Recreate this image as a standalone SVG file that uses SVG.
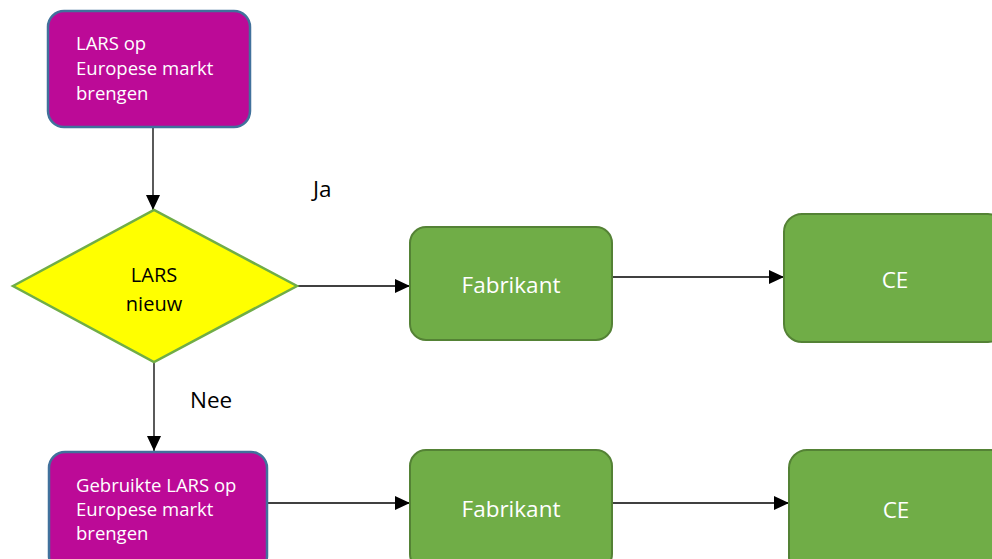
<svg xmlns="http://www.w3.org/2000/svg" width="992" height="559" viewBox="0 0 992 559">
<style>
.mag{fill:#BC0A97;stroke:#41719C;stroke-width:2.5}
.grn{fill:#70AD47;stroke:#548235;stroke-width:2}
.dia{fill:#FFFF00;stroke:#70AD47;stroke-width:2.5}
.wt{fill:#fff;font-family:"Open Sans","Noto Sans",sans-serif}
.bk{fill:#000;font-family:"Open Sans","Noto Sans",sans-serif}
.con{stroke:#000;stroke-width:1.3;fill:none;marker-end:url(#ah)}
</style>
<defs>
<marker id="ah" markerUnits="userSpaceOnUse" markerWidth="16" markerHeight="16" viewBox="0 0 16 16" refX="15" refY="8" orient="auto">
<path d="M0,1 L15,8 L0,15 Z" fill="#000"/>
</marker>
</defs>
<rect width="992" height="559" fill="#fff"/>
<g id="connectors">
<path class="con" d="M153,127 V210"/>
<path class="con" d="M297,286 H410"/>
<path class="con" d="M612,277 H784"/>
<path class="con" d="M154,362 V451"/>
<path class="con" d="M267,503 H410"/>
<path class="con" d="M612,503 H789"/>
</g>
<g id="start">
<rect class="mag" x="48" y="11" width="202" height="116" rx="16"/>
<text class="wt" font-size="18.5" x="76" y="50">LARS op</text>
<text class="wt" font-size="18.5" x="76" y="75">Europese markt</text>
<text class="wt" font-size="18.5" x="76" y="100">brengen</text>
</g>
<g id="decision">
<polygon class="dia" points="13,286 154,210 297,286 154,362"/>
<text class="bk" font-size="20" x="154" y="282" text-anchor="middle">LARS</text>
<text class="bk" font-size="20" x="154" y="311" text-anchor="middle">nieuw</text>
</g>
<g id="fabrikant1">
<rect class="grn" x="410" y="227" width="202" height="113" rx="16"/>
<text class="wt" font-size="22.5" x="511" y="293" text-anchor="middle">Fabrikant</text>
</g>
<g id="ce1">
<rect class="grn" x="784" y="214" width="222" height="128" rx="18"/>
<text class="wt" font-size="22.5" x="895" y="288" text-anchor="middle">CE</text>
</g>
<g id="used">
<rect class="mag" x="49" y="452" width="218" height="120" rx="16"/>
<text class="wt" font-size="18.5" x="76" y="492">Gebruikte LARS op</text>
<text class="wt" font-size="18.5" x="76" y="516">Europese markt</text>
<text class="wt" font-size="18.5" x="76" y="540">brengen</text>
</g>
<g id="fabrikant2">
<rect class="grn" x="410" y="450" width="202" height="120" rx="16"/>
<text class="wt" font-size="22.5" x="511" y="517" text-anchor="middle">Fabrikant</text>
</g>
<g id="ce2">
<rect class="grn" x="789" y="450" width="222" height="125" rx="18"/>
<text class="wt" font-size="22.5" x="896" y="518" text-anchor="middle">CE</text>
</g>
<g id="labels">
<text class="bk" font-size="22.5" x="313" y="197">Ja</text>
<text class="bk" font-size="22.5" x="190" y="408">Nee</text>
</g>
</svg>
